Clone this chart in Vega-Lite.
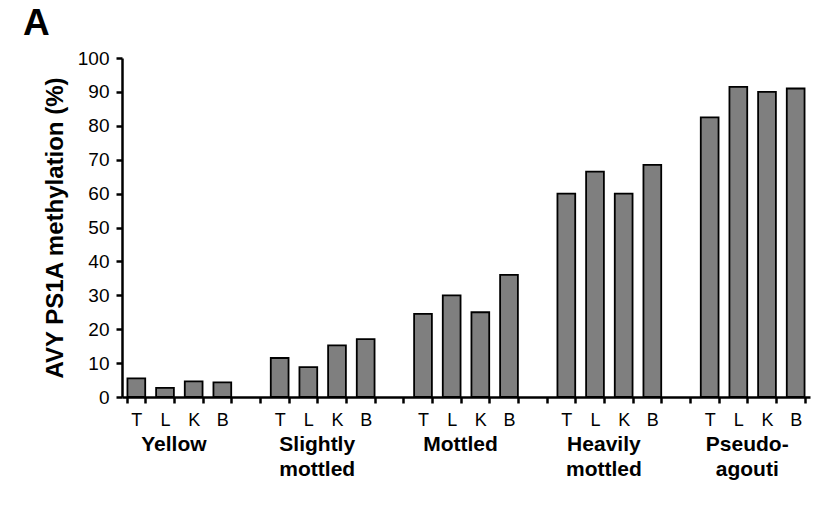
{
  "$schema": "https://vega.github.io/schema/vega-lite/v6.json",
  "width": 688,
  "height": 339,
  "autosize": "none",
  "padding": {"left": 122, "top": 58, "right": 5, "bottom": 113},
  "background": "white",
  "title": {"text": "A", "anchor": "start", "frame": "group", "dx": -99, "offset": 6, "fontSize": 37, "fontWeight": "bold", "font": "Liberation Sans", "color": "black"},
  "config": {"view": {"stroke": null}, "font": "Liberation Sans"},
  "datasets": {
    "bardata": [
      {"group": "Yellow", "tissue": "T", "value": 5.5},
      {"group": "Yellow", "tissue": "L", "value": 2.7},
      {"group": "Yellow", "tissue": "K", "value": 4.6},
      {"group": "Yellow", "tissue": "B", "value": 4.3},
      {"group": "Slightly mottled", "tissue": "T", "value": 11.5},
      {"group": "Slightly mottled", "tissue": "L", "value": 8.8},
      {"group": "Slightly mottled", "tissue": "K", "value": 15.2},
      {"group": "Slightly mottled", "tissue": "B", "value": 17.1},
      {"group": "Mottled", "tissue": "T", "value": 24.5},
      {"group": "Mottled", "tissue": "L", "value": 30},
      {"group": "Mottled", "tissue": "K", "value": 25},
      {"group": "Mottled", "tissue": "B", "value": 36},
      {"group": "Heavily mottled", "tissue": "T", "value": 60},
      {"group": "Heavily mottled", "tissue": "L", "value": 66.5},
      {"group": "Heavily mottled", "tissue": "K", "value": 60},
      {"group": "Heavily mottled", "tissue": "B", "value": 68.5},
      {"group": "Pseudo-agouti", "tissue": "T", "value": 82.5},
      {"group": "Pseudo-agouti", "tissue": "L", "value": 91.5},
      {"group": "Pseudo-agouti", "tissue": "K", "value": 90},
      {"group": "Pseudo-agouti", "tissue": "B", "value": 91}
    ],
    "groupdata": [
      {"group": "Yellow", "label": ["Yellow"]},
      {"group": "Slightly mottled", "label": ["Slightly", "mottled"]},
      {"group": "Mottled", "label": ["Mottled"]},
      {"group": "Heavily mottled", "label": ["Heavily", "mottled"]},
      {"group": "Pseudo-agouti", "label": ["Pseudo-", "agouti"]}
    ]
  },
  "layer": [
    {
      "data": {"name": "bardata"},
      "transform": [{"calculate": "datum.group + '|' + datum.tissue", "as": "slot"}],
      "mark": {"type": "bar", "fill": "#7f7f7f", "stroke": "black", "strokeWidth": 1.8},
      "encoding": {
        "x": {
          "field": "slot", "type": "nominal",
          "scale": {
            "domain": ["Yellow|T","Yellow|L","Yellow|K","Yellow|B","g1",
                       "Slightly mottled|T","Slightly mottled|L","Slightly mottled|K","Slightly mottled|B","g2",
                       "Mottled|T","Mottled|L","Mottled|K","Mottled|B","g3",
                       "Heavily mottled|T","Heavily mottled|L","Heavily mottled|K","Heavily mottled|B","g4",
                       "Pseudo-agouti|T","Pseudo-agouti|L","Pseudo-agouti|K","Pseudo-agouti|B"],
            "paddingInner": 0.38, "paddingOuter": 0.19
          },
          "axis": {
            "title": null,
            "labelExpr": "isString(datum.value) && indexof(datum.value, '|') >= 0 ? split(datum.value, '|')[1] : ''",
            "labelAngle": 0,
            "tickBand": "extent",
            "domainColor": "black", "domainWidth": 2.5,
            "tickColor": "black", "tickWidth": 2.5, "tickSize": 6,
            "labelFontSize": 18, "labelColor": "black", "labelPadding": 8,
            "labelFont": "Liberation Sans"
          }
        },
        "y": {
          "field": "value", "type": "quantitative",
          "scale": {"domain": [0, 100], "nice": false, "zero": true},
          "axis": {
            "title": "AVY PS1A methylation (%)",
            "titleFontSize": 24, "titleFontWeight": "bold", "titleColor": "black", "titleFont": "Liberation Sans",
            "titlePadding": 10,
            "values": [0,10,20,30,40,50,60,70,80,90,100],
            "tickCount": 11,
            "labelOverlap": false,
            "grid": false,
            "domainColor": "black", "domainWidth": 2.5,
            "tickColor": "black", "tickWidth": 2.5, "tickSize": 6,
            "labelFontSize": 19, "labelColor": "black", "labelPadding": 7,
            "labelFont": "Liberation Sans"
          }
        }
      }
    },
    {
      "data": {"name": "groupdata"},
      "transform": [{"calculate": "datum.group + '|L'", "as": "slot"}],
      "mark": {"type": "text", "baseline": "top", "align": "center", "dy": 37, "fontSize": 21, "fontWeight": "bold", "lineHeight": 25, "color": "black", "font": "Liberation Sans"},
      "encoding": {
        "x": {"field": "slot", "type": "nominal", "bandPosition": 1},
        "y": {"datum": 0, "type": "quantitative"},
        "text": {"field": "label"}
      }
    }
  ]
}
